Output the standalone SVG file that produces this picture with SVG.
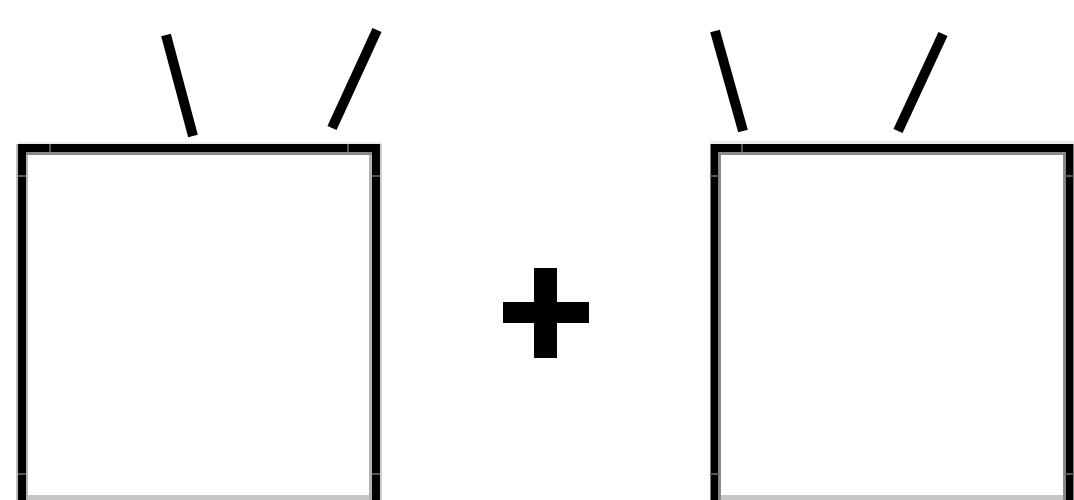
<svg xmlns="http://www.w3.org/2000/svg" width="1074" height="500" viewBox="0 0 1074 500">
  <style>
    .box { fill: none; stroke: #000; stroke-width: 8; }
    .inner { fill: #8a8a8a; }
    .innerl { fill: #b4b4b4; }
    .tick { stroke: #555; stroke-width: 2; }
    .stick { stroke: #000; stroke-width: 10; stroke-linecap: butt; }
    .plus { fill: #000; }
  </style>
  <rect width="1074" height="500" fill="#fff"/>
  <g id="box-left">
    <rect x="18" y="142" width="364" height="2" fill="#ececec"/>
    <rect x="16" y="144" width="2" height="356" fill="#bdbdbd"/>
    <rect x="380" y="144" width="2" height="356" fill="#cfcfcf"/>
    <rect class="box" x="22" y="148" width="354" height="380"/>
    <rect class="inner" x="26" y="152" width="346" height="3"/>
    <rect class="innerl" x="26" y="155" width="2" height="345"/>
    <rect class="innerl" x="369" y="155" width="3" height="345"/>
    <rect x="28" y="495" width="341" height="5" fill="#c6c6c6"/>
    <line class="tick" x1="50" y1="144" x2="50" y2="152"/>
    <line class="tick" x1="348" y1="144" x2="348" y2="152"/>
    <line class="tick" x1="18" y1="176" x2="26" y2="176"/>
    <line class="tick" x1="372" y1="176" x2="380" y2="176"/>
    <line class="tick" x1="18" y1="474" x2="26" y2="474"/>
    <line class="tick" x1="372" y1="474" x2="380" y2="474"/>
  </g>
  <g id="box-right">
    <rect x="710" y="141" width="364" height="3" fill="#ececec"/>
    <rect class="box" x="714.5" y="148" width="355" height="380"/>
    <rect class="inner" x="719" y="152" width="346" height="3"/>
    <rect class="inner" x="719" y="155" width="2" height="345"/>
    <rect class="inner" x="1063" y="155" width="2" height="345"/>
    <rect x="721" y="495" width="342" height="5" fill="#c6c6c6"/>
    <line class="tick" x1="742" y1="144" x2="742" y2="152"/>
    <line class="tick" x1="710" y1="176" x2="719" y2="176"/>
    <line class="tick" x1="1065" y1="176" x2="1074" y2="176"/>
    <line class="tick" x1="710" y1="474" x2="719" y2="474"/>
    <line class="tick" x1="1065" y1="474" x2="1074" y2="474"/>
  </g>
  <g id="plus">
    <rect class="plus" x="534" y="268" width="23" height="90"/>
    <rect class="plus" x="503" y="302" width="86" height="21"/>
  </g>
  <g id="connectors">
    <line class="stick" x1="166" y1="35" x2="193" y2="136"/>
    <line class="stick" x1="377" y1="30" x2="332" y2="128"/>
    <line class="stick" x1="715" y1="31" x2="743" y2="131"/>
    <line class="stick" x1="943" y1="34" x2="898" y2="131"/>
  </g>
</svg>
